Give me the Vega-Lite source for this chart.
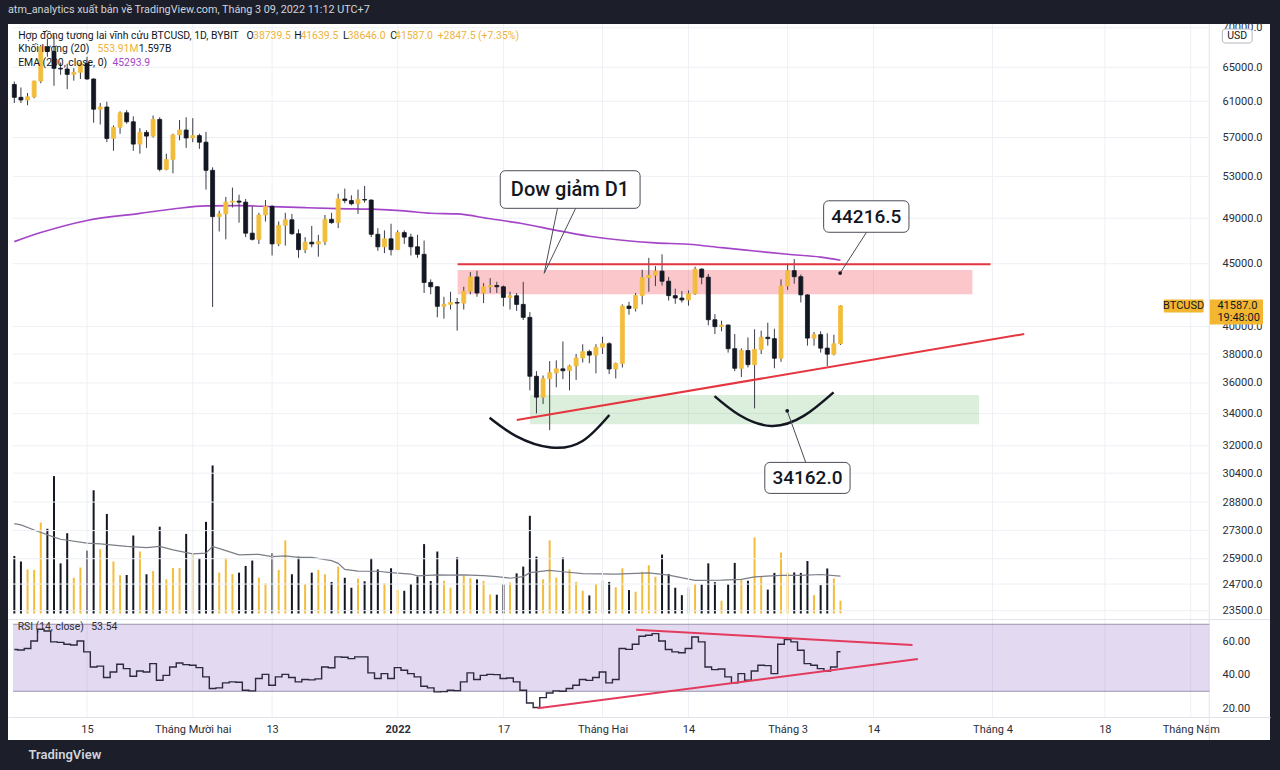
{
"$schema": "https://vega.github.io/schema/vega-lite/v6.json",
"width": 1262,
"height": 716,
"autosize": {"type": "none"},
"padding": {"left": 8, "top": 24, "right": 10, "bottom": 30},
"background": "#1c1f29",
"title": {"text": "atm_analytics xuất bản về TradingView.com, Tháng 3 09, 2022 11:12 UTC+7", "anchor": "start", "frame": "group", "offset": 7, "dx": 0, "fontSize": 10.8, "font": "Liberation Sans Narrow, Roboto", "fontWeight": "normal", "color": "#d1d4dc"},
"datasets": {
"candles": [
{"date":"2021-11-04","o":62950,"h":63300,"l":60800,"c":61450,"v":2.48,"rsi":54.9},
{"date":"2021-11-05","o":61450,"h":62600,"l":60800,"c":61150,"v":2.24,"rsi":54.6},
{"date":"2021-11-06","o":61150,"h":61950,"l":60550,"c":61500,"v":1.90,"rsi":55.5},
{"date":"2021-11-07","o":61500,"h":63400,"l":61350,"c":63350,"v":1.88,"rsi":60.0},
{"date":"2021-11-08","o":63350,"h":67800,"l":63100,"c":67550,"v":3.92,"rsi":67.0},
{"date":"2021-11-09","o":67550,"h":68550,"l":66300,"c":66950,"v":3.65,"rsi":66.0},
{"date":"2021-11-10","o":66950,"h":69000,"l":62800,"c":64880,"v":5.92,"rsi":59.5},
{"date":"2021-11-11","o":64880,"h":65600,"l":64100,"c":64800,"v":2.16,"rsi":59.2},
{"date":"2021-11-12","o":64800,"h":65450,"l":62400,"c":64150,"v":3.46,"rsi":58.1},
{"date":"2021-11-13","o":64150,"h":64900,"l":63400,"c":64400,"v":1.54,"rsi":57.6},
{"date":"2021-11-14","o":64400,"h":65550,"l":63600,"c":65500,"v":1.98,"rsi":60.0},
{"date":"2021-11-15","o":65500,"h":66300,"l":63500,"c":63600,"v":2.71,"rsi":53.5},
{"date":"2021-11-16","o":63600,"h":63650,"l":58600,"c":60100,"v":5.31,"rsi":44.5},
{"date":"2021-11-17","o":60100,"h":60800,"l":58400,"c":60350,"v":2.77,"rsi":45.0},
{"date":"2021-11-18","o":60350,"h":60950,"l":56500,"c":56900,"v":4.29,"rsi":38.2},
{"date":"2021-11-19","o":56900,"h":58300,"l":55600,"c":58100,"v":2.24,"rsi":41.5},
{"date":"2021-11-20","o":58100,"h":59850,"l":57400,"c":59700,"v":1.65,"rsi":46.1},
{"date":"2021-11-21","o":59700,"h":60000,"l":58500,"c":58700,"v":1.66,"rsi":43.5},
{"date":"2021-11-22","o":58700,"h":59300,"l":55600,"c":56300,"v":3.36,"rsi":39.0},
{"date":"2021-11-23","o":56300,"h":58000,"l":55300,"c":57550,"v":2.67,"rsi":42.1},
{"date":"2021-11-24","o":57550,"h":57800,"l":55900,"c":57150,"v":1.69,"rsi":41.5},
{"date":"2021-11-25","o":57150,"h":59400,"l":57000,"c":58960,"v":1.83,"rsi":46.5},
{"date":"2021-11-26","o":58960,"h":59200,"l":53500,"c":53700,"v":3.74,"rsi":36.6},
{"date":"2021-11-27","o":53700,"h":55300,"l":53600,"c":54700,"v":1.47,"rsi":39.5},
{"date":"2021-11-28","o":54700,"h":57400,"l":53300,"c":57270,"v":1.96,"rsi":44.5},
{"date":"2021-11-29","o":57270,"h":58900,"l":56700,"c":57800,"v":1.96,"rsi":46.9},
{"date":"2021-11-30","o":57800,"h":59200,"l":55900,"c":56950,"v":3.43,"rsi":45.9},
{"date":"2021-12-01","o":56950,"h":59100,"l":56500,"c":57200,"v":2.60,"rsi":45.5},
{"date":"2021-12-02","o":57200,"h":57400,"l":55800,"c":56500,"v":2.38,"rsi":44.1},
{"date":"2021-12-03","o":56500,"h":57600,"l":51700,"c":53600,"v":3.95,"rsi":38.6},
{"date":"2021-12-04","o":53600,"h":53900,"l":41500,"c":49150,"v":6.38,"rsi":31.6},
{"date":"2021-12-05","o":49150,"h":49700,"l":47800,"c":49400,"v":1.76,"rsi":32.0},
{"date":"2021-12-06","o":49400,"h":51000,"l":47100,"c":50500,"v":2.38,"rsi":35.0},
{"date":"2021-12-07","o":50500,"h":51900,"l":50000,"c":50600,"v":1.70,"rsi":35.6},
{"date":"2021-12-08","o":50600,"h":51200,"l":48600,"c":50500,"v":1.76,"rsi":35.4},
{"date":"2021-12-09","o":50500,"h":50800,"l":47300,"c":47650,"v":2.05,"rsi":30.6},
{"date":"2021-12-10","o":47650,"h":50100,"l":47000,"c":47100,"v":2.28,"rsi":30.2},
{"date":"2021-12-11","o":47100,"h":49500,"l":46700,"c":49300,"v":1.54,"rsi":37.6},
{"date":"2021-12-12","o":49300,"h":50700,"l":48700,"c":50100,"v":1.30,"rsi":40.1},
{"date":"2021-12-13","o":50100,"h":50200,"l":45700,"c":46700,"v":2.60,"rsi":33.6},
{"date":"2021-12-14","o":46700,"h":48700,"l":46500,"c":48350,"v":1.88,"rsi":38.6},
{"date":"2021-12-15","o":48350,"h":49500,"l":46550,"c":48860,"v":3.15,"rsi":40.1},
{"date":"2021-12-16","o":48860,"h":49400,"l":47500,"c":47600,"v":1.69,"rsi":38.2},
{"date":"2021-12-17","o":47600,"h":48000,"l":45500,"c":46200,"v":2.45,"rsi":35.6},
{"date":"2021-12-18","o":46200,"h":47300,"l":45900,"c":46850,"v":1.27,"rsi":37.0},
{"date":"2021-12-19","o":46850,"h":48300,"l":46400,"c":46700,"v":1.76,"rsi":36.8},
{"date":"2021-12-20","o":46700,"h":47500,"l":45600,"c":46900,"v":1.88,"rsi":37.4},
{"date":"2021-12-21","o":46900,"h":49300,"l":46600,"c":48900,"v":1.69,"rsi":44.5},
{"date":"2021-12-22","o":48900,"h":49500,"l":48500,"c":48600,"v":1.36,"rsi":44.0},
{"date":"2021-12-23","o":48600,"h":51300,"l":48100,"c":50800,"v":2.02,"rsi":50.5},
{"date":"2021-12-24","o":50800,"h":51800,"l":50400,"c":50650,"v":1.54,"rsi":50.3},
{"date":"2021-12-25","o":50650,"h":51150,"l":50200,"c":50350,"v":1.11,"rsi":49.5},
{"date":"2021-12-26","o":50350,"h":51700,"l":49400,"c":50750,"v":1.50,"rsi":50.5},
{"date":"2021-12-27","o":50750,"h":52050,"l":50450,"c":50700,"v":1.39,"rsi":50.5},
{"date":"2021-12-28","o":50700,"h":50750,"l":47300,"c":47550,"v":2.38,"rsi":41.0},
{"date":"2021-12-29","o":47550,"h":48100,"l":46100,"c":46450,"v":1.90,"rsi":37.6},
{"date":"2021-12-30","o":46450,"h":47900,"l":45900,"c":47150,"v":1.30,"rsi":40.5},
{"date":"2021-12-31","o":47150,"h":48500,"l":45700,"c":46200,"v":1.95,"rsi":37.6},
{"date":"2022-01-01","o":46200,"h":47900,"l":46200,"c":47700,"v":1.01,"rsi":44.1},
{"date":"2022-01-02","o":47700,"h":47900,"l":46700,"c":47300,"v":0.98,"rsi":42.5},
{"date":"2022-01-03","o":47300,"h":47600,"l":45700,"c":46450,"v":1.27,"rsi":40.5},
{"date":"2022-01-04","o":46450,"h":47500,"l":45500,"c":45800,"v":1.59,"rsi":38.6},
{"date":"2022-01-05","o":45800,"h":47000,"l":42600,"c":43450,"v":2.99,"rsi":33.0},
{"date":"2022-01-06","o":43450,"h":43700,"l":42500,"c":43100,"v":1.40,"rsi":32.0},
{"date":"2022-01-07","o":43100,"h":43150,"l":40700,"c":41550,"v":2.67,"rsi":29.6},
{"date":"2022-01-08","o":41550,"h":42300,"l":40600,"c":41700,"v":1.41,"rsi":29.8},
{"date":"2022-01-09","o":41700,"h":42700,"l":41300,"c":41850,"v":1.11,"rsi":30.6},
{"date":"2022-01-10","o":41850,"h":42200,"l":39700,"c":41800,"v":2.42,"rsi":30.4},
{"date":"2022-01-11","o":41800,"h":43100,"l":41300,"c":42750,"v":1.62,"rsi":35.6},
{"date":"2022-01-12","o":42750,"h":44300,"l":42500,"c":43900,"v":1.52,"rsi":41.0},
{"date":"2022-01-13","o":43900,"h":44400,"l":42300,"c":42600,"v":1.47,"rsi":37.0},
{"date":"2022-01-14","o":42600,"h":43400,"l":41800,"c":43100,"v":1.40,"rsi":39.5},
{"date":"2022-01-15","o":43100,"h":43800,"l":42600,"c":43200,"v":0.82,"rsi":40.1},
{"date":"2022-01-16","o":43200,"h":43500,"l":42600,"c":43100,"v":0.81,"rsi":39.9},
{"date":"2022-01-17","o":43100,"h":43200,"l":41550,"c":42250,"v":1.26,"rsi":37.6},
{"date":"2022-01-18","o":42250,"h":42700,"l":41300,"c":42380,"v":1.34,"rsi":37.9},
{"date":"2022-01-19","o":42380,"h":42600,"l":41200,"c":41700,"v":1.73,"rsi":35.6},
{"date":"2022-01-20","o":41700,"h":43500,"l":40500,"c":40700,"v":2.02,"rsi":30.6},
{"date":"2022-01-21","o":40700,"h":41100,"l":35500,"c":36450,"v":4.21,"rsi":23.0},
{"date":"2022-01-22","o":36450,"h":36800,"l":34000,"c":35050,"v":2.45,"rsi":20.3},
{"date":"2022-01-23","o":35050,"h":36500,"l":34600,"c":36280,"v":1.47,"rsi":26.2},
{"date":"2022-01-24","o":36280,"h":37500,"l":32950,"c":36690,"v":3.15,"rsi":29.0},
{"date":"2022-01-25","o":36690,"h":37550,"l":35700,"c":36960,"v":1.54,"rsi":30.2},
{"date":"2022-01-26","o":36960,"h":38900,"l":36250,"c":36830,"v":2.41,"rsi":30.0},
{"date":"2022-01-27","o":36830,"h":37250,"l":35500,"c":37160,"v":1.90,"rsi":31.6},
{"date":"2022-01-28","o":37160,"h":38000,"l":36200,"c":37720,"v":1.36,"rsi":33.6},
{"date":"2022-01-29","o":37720,"h":38700,"l":37400,"c":38170,"v":0.98,"rsi":37.0},
{"date":"2022-01-30","o":38170,"h":38300,"l":37350,"c":37920,"v":0.78,"rsi":36.5},
{"date":"2022-01-31","o":37920,"h":38700,"l":36650,"c":38480,"v":1.27,"rsi":38.2},
{"date":"2022-02-01","o":38480,"h":39250,"l":38000,"c":38740,"v":1.42,"rsi":41.5},
{"date":"2022-02-02","o":38740,"h":38850,"l":36600,"c":36950,"v":1.36,"rsi":35.0},
{"date":"2022-02-03","o":36950,"h":37400,"l":36300,"c":37330,"v":1.13,"rsi":37.0},
{"date":"2022-02-04","o":37330,"h":41700,"l":37050,"c":41570,"v":1.95,"rsi":55.5},
{"date":"2022-02-05","o":41570,"h":41900,"l":40900,"c":41380,"v":1.01,"rsi":55.0},
{"date":"2022-02-06","o":41380,"h":42600,"l":41150,"c":42400,"v":0.94,"rsi":58.1},
{"date":"2022-02-07","o":42400,"h":44500,"l":41700,"c":43840,"v":1.80,"rsi":62.8},
{"date":"2022-02-08","o":43840,"h":45500,"l":42700,"c":44040,"v":2.08,"rsi":63.4},
{"date":"2022-02-09","o":44040,"h":44800,"l":43150,"c":44380,"v":1.58,"rsi":64.4},
{"date":"2022-02-10","o":44380,"h":45800,"l":43200,"c":43550,"v":2.54,"rsi":60.0},
{"date":"2022-02-11","o":43550,"h":43900,"l":42000,"c":42390,"v":1.70,"rsi":54.9},
{"date":"2022-02-12","o":42390,"h":42950,"l":41750,"c":42200,"v":1.11,"rsi":53.5},
{"date":"2022-02-13","o":42200,"h":42750,"l":41850,"c":42050,"v":0.79,"rsi":53.0},
{"date":"2022-02-14","o":42050,"h":42800,"l":41600,"c":42540,"v":1.12,"rsi":55.5},
{"date":"2022-02-15","o":42540,"h":44750,"l":42450,"c":44550,"v":1.26,"rsi":62.4},
{"date":"2022-02-16","o":44550,"h":44600,"l":43300,"c":43880,"v":1.25,"rsi":59.5},
{"date":"2022-02-17","o":43880,"h":44150,"l":40100,"c":40520,"v":2.16,"rsi":44.5},
{"date":"2022-02-18","o":40520,"h":40950,"l":39450,"c":40000,"v":1.35,"rsi":42.9},
{"date":"2022-02-19","o":40000,"h":40450,"l":39650,"c":40120,"v":0.55,"rsi":43.3},
{"date":"2022-02-20","o":40120,"h":40150,"l":38100,"c":38380,"v":1.26,"rsi":38.6},
{"date":"2022-02-21","o":38380,"h":39450,"l":36800,"c":37000,"v":2.18,"rsi":35.0},
{"date":"2022-02-22","o":37000,"h":38400,"l":36400,"c":38250,"v":1.44,"rsi":40.5},
{"date":"2022-02-23","o":38250,"h":39200,"l":37050,"c":37250,"v":1.41,"rsi":36.6},
{"date":"2022-02-24","o":37250,"h":39800,"l":34320,"c":38330,"v":3.28,"rsi":42.1},
{"date":"2022-02-25","o":38330,"h":39700,"l":38000,"c":39210,"v":1.58,"rsi":45.5},
{"date":"2022-02-26","o":39210,"h":40300,"l":38600,"c":39110,"v":1.03,"rsi":45.3},
{"date":"2022-02-27","o":39110,"h":39850,"l":37000,"c":37700,"v":1.75,"rsi":40.5},
{"date":"2022-02-28","o":37700,"h":43700,"l":37450,"c":43160,"v":2.63,"rsi":58.1},
{"date":"2022-03-01","o":43160,"h":44950,"l":42850,"c":44420,"v":1.77,"rsi":60.8},
{"date":"2022-03-02","o":44420,"h":45400,"l":43350,"c":43920,"v":1.77,"rsi":59.5},
{"date":"2022-03-03","o":43920,"h":44100,"l":41850,"c":42450,"v":1.75,"rsi":54.5},
{"date":"2022-03-04","o":42450,"h":42500,"l":38600,"c":39150,"v":2.26,"rsi":46.5},
{"date":"2022-03-05","o":39150,"h":39600,"l":38600,"c":39400,"v":0.79,"rsi":45.5},
{"date":"2022-03-06","o":39400,"h":39650,"l":38100,"c":38420,"v":1.22,"rsi":43.5},
{"date":"2022-03-07","o":38420,"h":39500,"l":37150,"c":37990,"v":1.94,"rsi":42.1},
{"date":"2022-03-08","o":37990,"h":39400,"l":37900,"c":38740,"v":1.51,"rsi":44.5},
{"date":"2022-03-09","o":38739.5,"h":41639.5,"l":38646,"c":41587,"v":0.554,"rsi":53.54}
],
"ema": [
{"date":"2021-11-04","ema":46900},{"date":"2021-11-08","ema":47700},{"date":"2021-11-15","ema":48800},{"date":"2021-11-23","ema":49450},{"date":"2021-11-28","ema":49850},{"date":"2021-12-03","ema":50150},{"date":"2021-12-08","ema":50170},{"date":"2021-12-13","ema":50080},{"date":"2021-12-18","ema":49980},{"date":"2021-12-23","ema":49890},{"date":"2021-12-28","ema":49840},{"date":"2022-01-02","ema":49680},{"date":"2022-01-06","ema":49460},{"date":"2022-01-10","ema":49400},{"date":"2022-01-15","ema":48950},{"date":"2022-01-20","ema":48500},{"date":"2022-01-25","ema":47900},{"date":"2022-01-30","ema":47380},{"date":"2022-02-04","ema":47020},{"date":"2022-02-09","ema":46790},{"date":"2022-02-14","ema":46670},{"date":"2022-02-19","ema":46380},{"date":"2022-02-24","ema":46090},{"date":"2022-03-01","ema":45800},{"date":"2022-03-06","ema":45560},{"date":"2022-03-09","ema":45294}
],
"vma": [
{"date":"2021-11-04","vma":3.87},{"date":"2021-11-05","vma":3.82},{"date":"2021-11-07","vma":3.60},{"date":"2021-11-10","vma":3.29},{"date":"2021-11-11","vma":3.20},{"date":"2021-11-15","vma":3.03},{"date":"2021-11-17","vma":3.00},{"date":"2021-11-21","vma":2.89},{"date":"2021-11-24","vma":2.84},{"date":"2021-11-26","vma":2.89},{"date":"2021-11-28","vma":2.74},{"date":"2021-12-01","vma":2.57},{"date":"2021-12-03","vma":2.60},{"date":"2021-12-04","vma":2.89},{"date":"2021-12-06","vma":2.71},{"date":"2021-12-08","vma":2.53},{"date":"2021-12-11","vma":2.55},{"date":"2021-12-13","vma":2.45},{"date":"2021-12-15","vma":2.48},{"date":"2021-12-17","vma":2.42},{"date":"2021-12-19","vma":2.42},{"date":"2021-12-22","vma":2.28},{"date":"2021-12-23","vma":2.16},{"date":"2021-12-24","vma":1.90},{"date":"2021-12-26","vma":1.83},{"date":"2021-12-29","vma":1.82},{"date":"2021-12-31","vma":1.76},{"date":"2022-01-03","vma":1.70},{"date":"2022-01-04","vma":1.62},{"date":"2022-01-07","vma":1.66},{"date":"2022-01-09","vma":1.65},{"date":"2022-01-11","vma":1.66},{"date":"2022-01-14","vma":1.63},{"date":"2022-01-16","vma":1.59},{"date":"2022-01-18","vma":1.52},{"date":"2022-01-20","vma":1.59},{"date":"2022-01-21","vma":1.76},{"date":"2022-01-24","vma":1.86},{"date":"2022-01-26","vma":1.80},{"date":"2022-01-29","vma":1.72},{"date":"2022-02-03","vma":1.70},{"date":"2022-02-08","vma":1.75},{"date":"2022-02-11","vma":1.65},{"date":"2022-02-15","vma":1.43},{"date":"2022-02-19","vma":1.44},{"date":"2022-02-22","vma":1.47},{"date":"2022-02-24","vma":1.58},{"date":"2022-02-28","vma":1.64},{"date":"2022-03-03","vma":1.64},{"date":"2022-03-06","vma":1.68},{"date":"2022-03-09","vma":1.61}
],
"priceTicks": [{"p":23500},{"p":24700},{"p":25900},{"p":27300},{"p":28800},{"p":30400},{"p":32000},{"p":34000},{"p":36000},{"p":38000},{"p":40000},{"p":45000},{"p":49000},{"p":53000},{"p":57000},{"p":61000},{"p":65000},{"p":70000}],
"timeTicks": [{"date":"2021-11-15"},{"date":"2021-12-01"},{"date":"2021-12-13"},{"date":"2022-01-01"},{"date":"2022-01-17"},{"date":"2022-02-01"},{"date":"2022-02-14"},{"date":"2022-03-01"},{"date":"2022-03-14"},{"date":"2022-04-01"},{"date":"2022-04-18"},{"date":"2022-05-01"}],
"zones": [
{"zone":"pink","start":"2022-01-10T01:41:00Z","end":"2022-03-28T23:02:00Z","lo":42490,"hi":44470},
{"zone":"green","start":"2022-01-21T00:00:00Z","end":"2022-03-29T23:02:00Z","lo":33310,"hi":35190}
],
"levels": [{"start":"2022-01-10T01:41:00Z","end":"2022-03-31T16:48:00Z","p":44950}],
"trend": [{"date":"2022-01-19T00:29:00Z","p":33580},{"date":"2022-04-05T19:12:00Z","p":39450}],
"arcs": [
{"arc":"a","date":"2022-01-14T21:50:00Z","p":33730},{"arc":"a","date":"2022-01-18T22:05:00Z","p":32590},{"arc":"a","date":"2022-01-24T04:05:00Z","p":31900},{"arc":"a","date":"2022-01-28T23:31:00Z","p":32290},{"arc":"a","date":"2022-02-02T00:43:00Z","p":33900},
{"arc":"b","date":"2022-02-17T22:34:00Z","p":35120},{"arc":"b","date":"2022-02-21T16:34:00Z","p":33900},{"arc":"b","date":"2022-02-26T13:00:00Z","p":33210},{"arc":"b","date":"2022-03-03T10:34:00Z","p":33840},{"arc":"b","date":"2022-03-07T22:48:00Z","p":35370}
],
"rsiTrend": [
{"line":"up","date":"2022-01-22T04:19:00Z","r":19.8},{"line":"up","date":"2022-03-20T16:48:00Z","r":49.25},
{"line":"down","date":"2022-02-06T01:55:00Z","r":66.7},{"line":"down","date":"2022-03-19T21:36:00Z","r":57.6}
],
"rsiBand": [{"start":"2021-11-03T19:12:00Z","end":"2022-05-03T19:12:00Z","lo":30,"hi":70}],
"rsiLevels": [{"r":30},{"r":70}],
"boxes": [
{"name":"dow","start":"2022-01-16T12:29:00Z","end":"2022-02-06T16:19:00Z","top":53560,"bottom":49920},
{"name":"high","start":"2022-03-06T10:48:00Z","end":"2022-03-19T08:38:00Z","top":50630,"bottom":47730},
{"name":"low","start":"2022-02-25T13:12:00Z","end":"2022-03-10T10:48:00Z","top":31020,"bottom":29270}
],
"callouts": [
{"kind":"word","text":"Dow giảm D1","date":"2022-01-27T01:41:00Z","p":51710},
{"kind":"number","text":"44216.5","date":"2022-03-12T21:36:00Z","p":49160},
{"kind":"number","text":"34162.0","date":"2022-03-04T00:00:00Z","p":30140}
],
"tails": [
{"date":"2022-01-25T04:19:00Z","p":49920,"date2":"2022-01-23T04:05:00Z","p2":44200},
{"date":"2022-01-27T22:19:00Z","p":49920,"date2":"2022-01-23T04:05:00Z","p2":44200},
{"date":"2022-03-12T22:34:00Z","p":47730,"date2":"2022-03-08T22:48:00Z","p2":44216.5},
{"date":"2022-02-28T22:34:00Z","p":34162,"date2":"2022-03-03T17:46:00Z","p2":31020}
],
"dots": [{"date":"2022-03-08T22:48:00Z","p":44216.5},{"date":"2022-02-28T22:34:00Z","p":34162}],
"legend": [
{"kind":"label","date":"2021-11-04T14:00:00Z","p":68970,"text":"Hợp đồng tương lai vĩnh cửu BTCUSD, 1D, BYBIT"},
{"kind":"label","date":"2021-12-09T03:22:00Z","p":68970,"text":"O"},
{"kind":"value","date":"2021-12-10T02:53:00Z","p":68970,"text":"38739.5"},
{"kind":"label","date":"2021-12-16T08:38:00Z","p":68970,"text":"H"},
{"kind":"value","date":"2021-12-17T06:58:00Z","p":68970,"text":"41639.5"},
{"kind":"label","date":"2021-12-23T17:17:00Z","p":68970,"text":"L"},
{"kind":"value","date":"2021-12-24T10:48:00Z","p":68970,"text":"38646.0"},
{"kind":"label","date":"2021-12-30T21:22:00Z","p":68970,"text":"C"},
{"kind":"value","date":"2021-12-31T14:38:00Z","p":68970,"text":"41587.0"},
{"kind":"value","date":"2022-01-07T01:12:00Z","p":68970,"text":"+2847.5 (+7.35%)"},
{"kind":"label","date":"2021-11-04T14:00:00Z","p":67270,"text":"Khối lượng (20)"},
{"kind":"value","date":"2021-11-16T13:55:00Z","p":67270,"text":"553.91M"},
{"kind":"label","date":"2021-11-22T20:10:00Z","p":67270,"text":"1.597B"},
{"kind":"label","date":"2021-11-04T14:00:00Z","p":65490,"text":"EMA (200, close, 0)"},
{"kind":"ema","date":"2021-11-18T20:10:00Z","p":65490,"text":"45293.9"}
],
"rsiLegend": [
{"date":"2021-11-04T12:00:00Z","r":68.5,"text":"RSI (14, close)"},
{"date":"2021-11-15T15:22:00Z","r":68.5,"text":"53.54"}
],
"tagBoxes": [
{"name":"symbol","start":"2022-04-26T22:05:00Z","end":"2022-05-02T22:19:00Z","top":42080,"bottom":41070},
{"name":"price","start":"2022-05-03T19:12:00Z","end":"2022-05-11T22:19:00Z","top":42080,"bottom":40160}
],
"tagTexts": [
{"role":"symbol","text":"BTCUSD","date":"2022-04-29T22:05:00Z","p":41587},
{"role":"price","text":"41587.0","date":"2022-05-05T00:43:00Z","p":41587},
{"role":"price","text":"19:48:00","date":"2022-05-05T00:43:00Z","p":40650}
],
"usdBox": [{"start":"2022-05-05T18:43:00Z","end":"2022-05-10T06:43:00Z","top":69840,"bottom":68030,"mid":"2022-05-08T00:43:00Z","p":68930,"text":"USD"}],
"edge": [{"date":"2022-05-03T19:12:00Z"}]
},
"resolve": {"scale": {"y": "independent"}},
"layer": [
{
"layer": [
{"data": {"name": "candles"},
 "mark": {"type": "bar", "width": 2, "clip": true},
 "encoding": {
  "x": {"field": "date", "type": "temporal",
   "scale": {"type": "utc", "domain": [{"year": 2021, "month": 11, "date": 3, "hours": 19, "minutes": 12, "utc": true}, {"year": 2022, "month": 5, "date": 12, "hours": 5, "minutes": 31, "utc": true}]},
   "axis": {"orient": "bottom", "offset": -23,
    "values": [{"year":2021,"month":11,"date":15,"utc":true},{"year":2021,"month":12,"date":1,"utc":true},{"year":2021,"month":12,"date":13,"utc":true},{"year":2022,"month":1,"date":1,"utc":true},{"year":2022,"month":1,"date":17,"utc":true},{"year":2022,"month":2,"date":1,"utc":true},{"year":2022,"month":2,"date":14,"utc":true},{"year":2022,"month":3,"date":1,"utc":true},{"year":2022,"month":3,"date":14,"utc":true},{"year":2022,"month":4,"date":1,"utc":true},{"year":2022,"month":4,"date":18,"utc":true},{"year":2022,"month":5,"date":1,"utc":true}],
    "labelExpr": "utcdate(datum.value) == 1 ? (utcmonth(datum.value) == 11 ? 'Tháng Mười hai' : utcmonth(datum.value) == 0 ? '2022' : utcmonth(datum.value) == 1 ? 'Tháng Hai' : utcmonth(datum.value) == 2 ? 'Tháng 3' : utcmonth(datum.value) == 3 ? 'Tháng 4' : 'Tháng Năm') : '' + utcdate(datum.value)",
    "labelFontWeight": {"condition": {"test": "utcmonth(datum.value) == 0 && utcdate(datum.value) == 1", "value": "bold"}, "value": "normal"},
    "labelFont": "Liberation Sans Narrow, Roboto", "labelFontSize": 11, "labelColor": "#2a2e39", "labelPadding": 6,
    "labelOverlap": false, "labelFlush": false, "grid": false, "ticks": false,
    "domain": true, "domainColor": "#e0e3eb", "domainWidth": 1,
    "title": "TradingView", "titleX": 20, "titleY": 37, "titleAlign": "left", "titleBaseline": "middle", "titleAnchor": "start", "titleAngle": 0,
    "titleFont": "Roboto", "titleFontSize": 13, "titleFontWeight": 600, "titleColor": "#d1d4dc"}},
  "y": {"field": "v", "type": "quantitative", "scale": {"domain": [0, 25.4], "range": [589.5, 0], "nice": false, "zero": true}, "axis": null},
  "color": {"condition": {"test": "datum.c >= datum.o", "value": "#f3bd3c"}, "value": "#131722"}
 }},
{"data": {"name": "vma"},
 "mark": {"type": "line", "color": "#7b7e88", "strokeWidth": 1.2, "clip": true},
 "encoding": {"x": {"field": "date", "type": "temporal"}, "y": {"field": "vma", "type": "quantitative"}}}
]
},
{
"layer": [
{"data": {"name": "priceTicks"},
 "mark": {"type": "rule", "color": "#eef0f5", "strokeWidth": 1},
 "encoding": {
  "x": {"datum": {"year": 2021, "month": 11, "date": 3, "hours": 19, "minutes": 12, "utc": true}, "type": "temporal"},
  "x2": {"datum": {"year": 2022, "month": 5, "date": 3, "hours": 19, "minutes": 12, "utc": true}},
  "y": {"field": "p", "type": "quantitative",
   "scale": {"type": "log", "domain": [23266, 70497], "range": [592, 0], "nice": false, "zero": false},
   "axis": {"orient": "right", "offset": -56, "title": null,
    "values": [23500, 24700, 25900, 27300, 28800, 30400, 32000, 34000, 36000, 38000, 40000, 45000, 49000, 53000, 57000, 61000, 65000, 70000],
    "format": ".1f", "labelFont": "Liberation Sans Narrow, Roboto", "labelFontSize": 11, "labelColor": "#2a2e39", "labelPadding": 8,
    "labelOverlap": false, "labelFlush": false, "grid": false, "ticks": false, "domain": false}}
 }},
{"data": {"name": "timeTicks"},
 "mark": {"type": "rule", "color": "#eef0f5", "strokeWidth": 1},
 "encoding": {
  "x": {"field": "date", "type": "temporal"},
  "y": {"datum": 70497},
  "y2": {"datum": 19256}
 }},
{"data": {"name": "zones"},
 "transform": [{"filter": "datum.zone == 'pink'"}],
 "mark": {"type": "rect", "color": "#f23645", "opacity": 0.28},
 "encoding": {"x": {"field": "start", "type": "temporal"}, "x2": {"field": "end"}, "y": {"field": "lo", "type": "quantitative"}, "y2": {"field": "hi"}}},
{"data": {"name": "zones"},
 "transform": [{"filter": "datum.zone == 'green'"}],
 "mark": {"type": "rect", "color": "#4caf50", "opacity": 0.2},
 "encoding": {"x": {"field": "start", "type": "temporal"}, "x2": {"field": "end"}, "y": {"field": "lo", "type": "quantitative"}, "y2": {"field": "hi"}}},
{"data": {"name": "ema"},
 "mark": {"type": "line", "color": "#a445c8", "strokeWidth": 1.6, "interpolate": "monotone", "clip": true},
 "encoding": {"x": {"field": "date", "type": "temporal"}, "y": {"field": "ema", "type": "quantitative"}}},
{"data": {"name": "candles"},
 "mark": {"type": "rule", "color": "#3a3d48", "strokeWidth": 1, "clip": true},
 "encoding": {"x": {"field": "date", "type": "temporal"}, "y": {"field": "l", "type": "quantitative"}, "y2": {"field": "h"}}},
{"data": {"name": "candles"},
 "mark": {"type": "bar", "width": 4, "strokeWidth": 0.8, "clip": true},
 "encoding": {
  "x": {"field": "date", "type": "temporal"},
  "y": {"field": "o", "type": "quantitative"},
  "y2": {"field": "c"},
  "color": {"condition": {"test": "datum.c >= datum.o", "value": "#f3bd3c"}, "value": "#131722"},
  "stroke": {"condition": {"test": "datum.c >= datum.o", "value": "#f3bd3c"}, "value": "#131722"}
 }},
{"data": {"name": "levels"},
 "mark": {"type": "rule", "color": "#e5363f", "strokeWidth": 2},
 "encoding": {"x": {"field": "start", "type": "temporal"}, "x2": {"field": "end"}, "y": {"field": "p", "type": "quantitative"}}},
{"data": {"name": "trend"},
 "mark": {"type": "line", "color": "#e5363f", "strokeWidth": 2},
 "encoding": {"x": {"field": "date", "type": "temporal"}, "y": {"field": "p", "type": "quantitative"}}},
{"data": {"name": "arcs"},
 "mark": {"type": "line", "color": "#131722", "strokeWidth": 2.5, "interpolate": "natural"},
 "encoding": {"x": {"field": "date", "type": "temporal"}, "y": {"field": "p", "type": "quantitative"}, "detail": {"field": "arc"}}},
{"data": {"name": "tails"},
 "mark": {"type": "rule", "color": "#4a4d57", "strokeWidth": 1},
 "encoding": {"x": {"field": "date", "type": "temporal"}, "x2": {"field": "date2"}, "y": {"field": "p", "type": "quantitative"}, "y2": {"field": "p2"}}},
{"data": {"name": "boxes"},
 "mark": {"type": "rect", "fill": "#ffffff", "stroke": "#4a4d57", "strokeWidth": 1, "cornerRadius": 5},
 "encoding": {"x": {"field": "start", "type": "temporal"}, "x2": {"field": "end"}, "y": {"field": "top", "type": "quantitative"}, "y2": {"field": "bottom"}}},
{"data": {"name": "callouts"},
 "transform": [{"filter": "datum.kind == 'word'"}],
 "mark": {"type": "text", "font": "Roboto", "fontSize": 20, "fontWeight": 500, "color": "#131722", "align": "center", "baseline": "middle"},
 "encoding": {"x": {"field": "date", "type": "temporal"}, "y": {"field": "p", "type": "quantitative"}, "text": {"field": "text"}}},
{"data": {"name": "callouts"},
 "transform": [{"filter": "datum.kind == 'number'"}],
 "mark": {"type": "text", "font": "Roboto", "fontSize": 19, "fontWeight": 500, "color": "#131722", "align": "center", "baseline": "middle"},
 "encoding": {"x": {"field": "date", "type": "temporal"}, "y": {"field": "p", "type": "quantitative"}, "text": {"field": "text"}}},
{"data": {"name": "dots"},
 "mark": {"type": "circle", "color": "#131722", "size": 14, "opacity": 1},
 "encoding": {"x": {"field": "date", "type": "temporal"}, "y": {"field": "p", "type": "quantitative"}}},
{"data": {"name": "legend"},
 "transform": [{"filter": "datum.kind == 'label'"}],
 "mark": {"type": "text", "font": "Liberation Sans Narrow, Roboto", "fontSize": 10.4, "color": "#131722", "align": "left", "baseline": "middle"},
 "encoding": {"x": {"field": "date", "type": "temporal"}, "y": {"field": "p", "type": "quantitative"}, "text": {"field": "text"}}},
{"data": {"name": "legend"},
 "transform": [{"filter": "datum.kind == 'value'"}],
 "mark": {"type": "text", "font": "Liberation Sans Narrow, Roboto", "fontSize": 10.4, "color": "#eeb33b", "align": "left", "baseline": "middle"},
 "encoding": {"x": {"field": "date", "type": "temporal"}, "y": {"field": "p", "type": "quantitative"}, "text": {"field": "text"}}},
{"data": {"name": "legend"},
 "transform": [{"filter": "datum.kind == 'ema'"}],
 "mark": {"type": "text", "font": "Liberation Sans Narrow, Roboto", "fontSize": 10.4, "color": "#a445c8", "align": "left", "baseline": "middle"},
 "encoding": {"x": {"field": "date", "type": "temporal"}, "y": {"field": "p", "type": "quantitative"}, "text": {"field": "text"}}},
{"data": {"name": "tagBoxes"},
 "mark": {"type": "rect", "color": "#f2b630", "opacity": 1, "cornerRadius": 1},
 "encoding": {"x": {"field": "start", "type": "temporal"}, "x2": {"field": "end"}, "y": {"field": "top", "type": "quantitative"}, "y2": {"field": "bottom"}}},
{"data": {"name": "tagTexts"},
 "transform": [{"filter": "datum.role == 'symbol'"}],
 "mark": {"type": "text", "font": "Liberation Sans Narrow, Roboto", "fontSize": 11, "color": "#131722", "align": "center", "baseline": "middle"},
 "encoding": {"x": {"field": "date", "type": "temporal"}, "y": {"field": "p", "type": "quantitative"}, "text": {"field": "text"}}},
{"data": {"name": "tagTexts"},
 "transform": [{"filter": "datum.role == 'price'"}],
 "mark": {"type": "text", "font": "Liberation Sans Narrow, Roboto", "fontSize": 11, "color": "#131722", "align": "left", "baseline": "middle"},
 "encoding": {"x": {"field": "date", "type": "temporal"}, "y": {"field": "p", "type": "quantitative"}, "text": {"field": "text"}}},
{"data": {"name": "usdBox"},
 "mark": {"type": "rect", "fill": "#ffffff", "stroke": "#b2b5be", "strokeWidth": 1, "cornerRadius": 3},
 "encoding": {"x": {"field": "start", "type": "temporal"}, "x2": {"field": "end"}, "y": {"field": "top", "type": "quantitative"}, "y2": {"field": "bottom"}}},
{"data": {"name": "usdBox"},
 "mark": {"type": "text", "font": "Liberation Sans Narrow, Roboto", "fontSize": 10.5, "color": "#131722", "align": "center", "baseline": "middle"},
 "encoding": {"x": {"field": "mid", "type": "temporal"}, "y": {"field": "p", "type": "quantitative"}, "text": {"field": "text"}}},
{"data": {"name": "edge"},
 "mark": {"type": "rule", "color": "#e0e3eb", "strokeWidth": 1},
 "encoding": {"x": {"field": "date", "type": "temporal"}}},
{"data": {"values": [{}]},
 "mark": {"type": "rule", "color": "#e0e3eb", "strokeWidth": 1},
 "encoding": {"y": {"datum": 23110}}}
]
},
{
"layer": [
{"data": {"name": "rsiBand"},
 "mark": {"type": "rect", "color": "#7e57c2", "opacity": 0.22},
 "encoding": {
  "x": {"field": "start", "type": "temporal"}, "x2": {"field": "end"},
  "y": {"field": "lo", "type": "quantitative",
   "scale": {"domain": [20, 60], "range": [684, 617], "nice": false, "zero": false},
   "axis": {"orient": "right", "offset": -56, "title": null, "values": [20, 40, 60], "format": ".2f",
    "labelFont": "Liberation Sans Narrow, Roboto", "labelFontSize": 11, "labelColor": "#2a2e39", "labelPadding": 8,
    "labelOverlap": false, "labelFlush": false, "grid": false, "ticks": false, "domain": false}},
  "y2": {"field": "hi"}
 }},
{"data": {"name": "rsiLevels"},
 "mark": {"type": "rule", "color": "#9b94ad", "strokeWidth": 1},
 "encoding": {
  "x": {"datum": {"year": 2021, "month": 11, "date": 3, "hours": 19, "minutes": 12, "utc": true}, "type": "temporal"},
  "x2": {"datum": {"year": 2022, "month": 5, "date": 3, "hours": 19, "minutes": 12, "utc": true}},
  "y": {"field": "r", "type": "quantitative"}
 }},
{"data": {"name": "candles"},
 "mark": {"type": "line", "color": "#2d2a3e", "strokeWidth": 1.4, "interpolate": "step", "clip": true},
 "encoding": {"x": {"field": "date", "type": "temporal"}, "y": {"field": "rsi", "type": "quantitative"}}},
{"data": {"name": "rsiTrend"},
 "mark": {"type": "line", "color": "#e33b5c", "strokeWidth": 2},
 "encoding": {"x": {"field": "date", "type": "temporal"}, "y": {"field": "r", "type": "quantitative"}, "detail": {"field": "line"}}},
{"data": {"name": "rsiLegend"},
 "mark": {"type": "text", "font": "Liberation Sans Narrow, Roboto", "fontSize": 10.4, "color": "#2a2e39", "align": "left", "baseline": "middle"},
 "encoding": {"x": {"field": "date", "type": "temporal"}, "y": {"field": "r", "type": "quantitative"}, "text": {"field": "text"}}}
]
}
],
"config": {
 "view": {"stroke": null, "fill": "#ffffff"},
 "text": {"font": "Roboto"}
}
}
